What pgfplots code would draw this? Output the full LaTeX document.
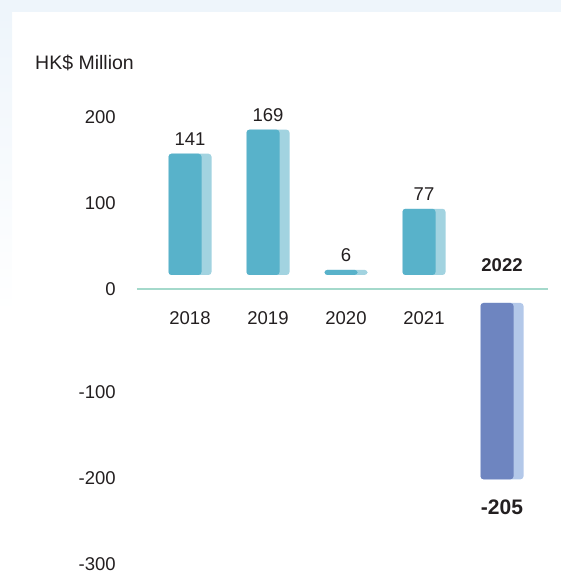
\documentclass[border=0pt]{standalone}
\usepackage{fontspec}
\setmainfont{Liberation Sans}
\usepackage{pgfplots}
\pgfplotsset{compat=1.18}
\definecolor{barmain}{HTML}{58B2CA}
\definecolor{barlight}{HTML}{A2D3E0}
\definecolor{negmain}{HTML}{6E85C0}
\definecolor{neglight}{HTML}{B3C8E9}
\definecolor{zeroline}{HTML}{A4D9CB}
\definecolor{textc}{HTML}{231F20}
\definecolor{bgblue}{HTML}{EEF5FB}
\begin{document}
\fontsize{18.5bp}{22bp}\selectfont
\begin{tikzpicture}
\useasboundingbox (0,0) rectangle (561bp,574bp);
\fill[bgblue] (0,562bp) rectangle (561bp,574bp);
\shade[top color=bgblue, bottom color=white] (0,260bp) rectangle (12bp,562bp);
\node[anchor=west, inner sep=0pt, text=textc, font=\fontsize{19.5bp}{22bp}\selectfont]
    at (35bp,511bp) {HK\$ Million};
\begin{axis}[
    at={(190bp,285bp)}, anchor=origin,
    x=78bp, y=0.86bp,
    xmin=-0.68, xmax=4.59, ymin=-320, ymax=220,
    axis x line=middle, axis y line=left,
    x axis line style={draw=zeroline, line width=2bp, -},
    y axis line style={draw=none},
    hide obscured x ticks=false, hide obscured y ticks=false,
    major tick length=0pt,
    xtick={0,1,2,3}, xticklabels={2018,2019,2020,2021},
    xticklabel style={anchor=north, inner xsep=0pt, inner ysep=22.5bp},
    extra x ticks={4}, extra x tick labels={\textbf{2022}},
    extra x tick style={xticklabel style={anchor=south, inner ysep=17.5bp}},
    ytick={0,100,200},
    extra y ticks={-100,-200,-300},
    extra y tick style={yticklabel style={yshift=-17bp}},
    yticklabel style={anchor=east, inner ysep=0pt, inner xsep=21bp},
    /pgf/number format/assume math mode=true,
    tick label style={font=\fontsize{18.5bp}{22bp}\selectfont, text=textc},
    clip=false,
]
% positive years, light side then front face
\addplot[ybar, bar width=43bp, bar shift=0pt, fill=barlight, draw=none,
    rounded corners=3bp, yshift=14bp,
    nodes near coords,
    nodes near coords style={anchor=south, inner sep=0pt, yshift=8bp, text=textc}]
    coordinates {(0,141) (1,169) (2,6) (3,77)};
\addplot[ybar, bar width=33bp, bar shift=-5bp, fill=barmain, draw=none,
    rounded corners=3bp, yshift=14bp]
    coordinates {(0,141) (1,169) (2,6) (3,77)};
% 2022 loss
\addplot[ybar, bar width=43bp, bar shift=0pt, fill=neglight, draw=none,
    rounded corners=3bp, yshift=-14bp,
    nodes near coords,
    nodes near coords style={anchor=north, inner sep=0pt, yshift=-20bp, text=textc,
        font=\fontsize{21bp}{24bp}\selectfont\bfseries}]
    coordinates {(4,-205)};
\addplot[ybar, bar width=33bp, bar shift=-5bp, fill=negmain, draw=none,
    rounded corners=3bp, yshift=-14bp]
    coordinates {(4,-205)};
\end{axis}
\end{tikzpicture}
\end{document}
